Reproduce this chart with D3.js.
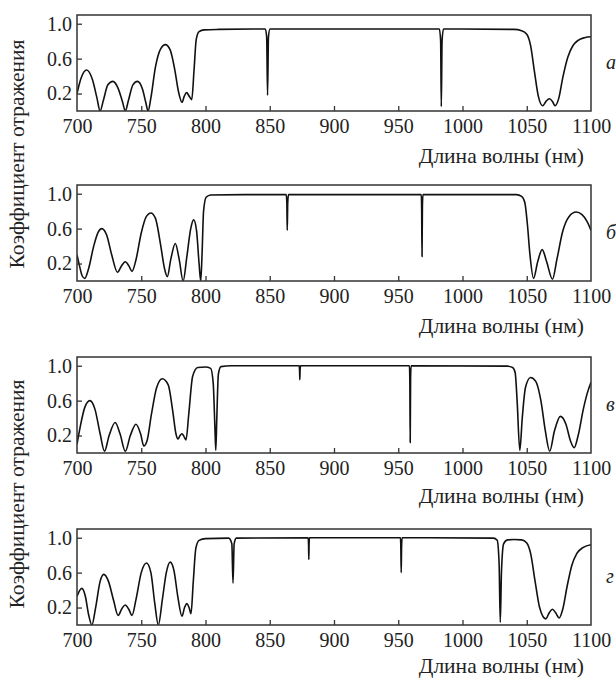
<!DOCTYPE html>
<html lang="ru">
<head>
<meta charset="UTF-8">
<script src="https://d3js.org/d3.v7.min.js"></script>
<style>
  body { margin: 0; background: #fff; }
  svg { display: block; }
  .tick text { fill: #222; }
  .tick line { stroke: #333; stroke-width: 1.3; }
</style>
</head>
<body>
<svg id="chart"></svg>
<script>
// значения: [длина волны, коэффициент отражения]
const seriesA = [[700,0.2],[703,0.37],[707.5,0.47],[712,0.36],[715.5,0.15],[718,0.0],[720.5,0.12],[724,0.3],[728,0.34],[732,0.26],[735.5,0.1],[737.6,0.0],[740,0.12],[743.5,0.3],[747,0.34],[751,0.25],[753.5,0.1],[755.3,0.0],[757.5,0.15],[761,0.5],[765,0.71],[768.8,0.76],[772.5,0.7],[776,0.48],[779,0.22],[781.7,0.1],[783.5,0.17],[785.3,0.21],[787.3,0.17],[789.3,0.13],[791,0.45],[792.8,0.82],[795,0.91],[799,0.93],[810,0.935],[846.5,0.94],[847.6,0.85],[848.3,0.18],[849.0,0.85],[850.2,0.94],[982,0.94],[983,0.8],[983.5,0.05],[984.1,0.8],[985.2,0.94],[1040,0.935],[1046,0.92],[1050,0.88],[1053,0.75],[1056,0.45],[1059,0.17],[1062.4,0.06],[1065,0.11],[1067.6,0.14],[1070,0.11],[1072,0.06],[1075,0.15],[1078,0.38],[1082,0.62],[1086,0.75],[1090,0.81],[1095,0.84],[1100,0.85]];

const seriesB = [[700,0.3],[702,0.17],[704,0.06],[706,0.03],[709,0.14],[713,0.4],[716.5,0.56],[719.3,0.6],[723,0.53],[727,0.3],[731.5,0.1],[734.5,0.17],[737.6,0.22],[740.5,0.17],[742.8,0.11],[746,0.25],[750,0.55],[754,0.74],[757.5,0.78],[761,0.72],[765,0.42],[768,0.15],[770.3,0.05],[773,0.25],[776.5,0.43],[779.5,0.25],[782.6,0.0],[785.5,0.28],[788.5,0.6],[790.8,0.7],[793,0.58],[795,0.2],[796.3,0.0],[797.3,0.3],[798.5,0.8],[800.5,0.96],[804,0.985],[830,0.99],[862.8,0.99],[863.3,0.9],[863.6,0.58],[864,0.9],[864.6,0.99],[967.9,0.99],[968.2,0.85],[968.5,0.28],[968.8,0.85],[969.2,0.99],[1042,0.99],[1046,0.97],[1048.5,0.9],[1050.5,0.65],[1052.5,0.3],[1055.3,0.03],[1058.5,0.22],[1062,0.36],[1065.5,0.22],[1070,0.02],[1073.5,0.25],[1078,0.57],[1083,0.74],[1088.4,0.79],[1093,0.76],[1097,0.68],[1100,0.58]];

const seriesC = [[700,0.1],[702.5,0.3],[706,0.52],[710,0.6],[714,0.5],[718,0.22],[721.4,0.02],[725,0.2],[729.7,0.35],[733.5,0.22],[737.6,0.02],[741.5,0.2],[745.9,0.33],[749.5,0.22],[752,0.08],[754.5,0.14],[758,0.45],[762,0.75],[766.4,0.85],[771,0.78],[774.5,0.48],[777,0.22],[778.6,0.16],[780.2,0.2],[781.7,0.22],[783.2,0.19],[784.8,0.15],[787,0.45],[790,0.88],[794,0.98],[800,0.985],[804,0.97],[806,0.8],[807.3,0.3],[808,0.03],[808.8,0.4],[810,0.9],[812,0.99],[820,1.0],[872.9,1.0],[873.2,0.95],[873.4,0.84],[873.6,0.95],[874,1.0],[958.7,1.0],[959,0.85],[959.3,0.12],[959.6,0.85],[960,1.0],[1035,0.995],[1039,0.98],[1041,0.92],[1042.5,0.6],[1044.6,0.03],[1046.5,0.4],[1049,0.75],[1053,0.865],[1057,0.82],[1061,0.6],[1064.5,0.25],[1067.9,0.02],[1071.5,0.25],[1076.2,0.42],[1080.5,0.33],[1084,0.14],[1086.9,0.06],[1090,0.2],[1094,0.5],[1097,0.68],[1100,0.81]];

const seriesD = [[700,0.33],[703.7,0.42],[706.5,0.33],[709,0.12],[711.6,0.0],[714.5,0.2],[718,0.5],[720.8,0.58],[724.5,0.5],[728.5,0.28],[732,0.11],[735,0.19],[737.6,0.23],[740.3,0.18],[742.8,0.11],[746,0.3],[750,0.6],[754.1,0.71],[757.5,0.6],[760.5,0.25],[763.3,0.0],[766.5,0.3],[769.5,0.6],[772.5,0.72],[775.5,0.62],[778.5,0.32],[781.7,0.1],[783.7,0.2],[785.6,0.245],[787.2,0.2],[788.7,0.13],[790.5,0.5],[792.5,0.88],[795,0.97],[800,0.99],[818,0.995],[820.5,0.93],[821.4,0.48],[822.3,0.93],[824,0.995],[879.9,1.0],[880.2,0.92],[880.4,0.75],[880.6,0.92],[880.9,1.0],[951.7,1.0],[952.0,0.9],[952.3,0.6],[952.6,0.9],[953,1.0],[1024,0.995],[1027,0.97],[1028.5,0.7],[1029.4,0.03],[1030.3,0.6],[1032,0.93],[1035,0.975],[1040,0.98],[1046,0.975],[1050,0.94],[1053,0.82],[1056.5,0.5],[1060,0.2],[1064.8,0.07],[1067.5,0.14],[1070,0.18],[1072.5,0.14],[1075.2,0.08],[1078,0.18],[1081.5,0.45],[1085,0.68],[1089,0.82],[1094,0.89],[1100,0.92]];

const xTicks = [700, 750, 800, 850, 900, 950, 1000, 1050, 1100];
const yTicks = [0.2, 0.6, 1.0];
const panelLabels = ["а", "б", "в", "г"];
const xTitle = "Длина волны (нм)";
const yTitle = "Коэффициент отражения";

const panels = [
  {data: seriesA, top: 15, titleGap: 52},
  {data: seriesB, top: 185, titleGap: 52},
  {data: seriesC, top: 357, titleGap: 50},
  {data: seriesD, top: 529, titleGap: 48}
];

const W = 616, H = 678;
const left = 77, right = 591, ph = 96;
const serif = "Liberation Serif, DejaVu Serif, Noto Serif, Tinos, Times New Roman, serif";

const svg = d3.select("#chart").attr("width", W).attr("height", H)
  .style("font-family", serif);

const x = d3.scaleLinear().domain([700, 1100]).range([left, right]);

const line = d3.line()
  .x(d => x(d[0]))
  .curve(d3.curveMonotoneX);

panels.forEach((p, i) => {
  const y = d3.scaleLinear().domain([0, 1.1]).range([p.top + ph, p.top]);
  line.y(d => y(d[1]));

  svg.append("clipPath").attr("id", "clip" + i)
    .append("rect")
    .attr("x", left).attr("y", p.top)
    .attr("width", right - left).attr("height", ph);

  svg.append("path")
    .datum(p.data)
    .attr("clip-path", `url(#clip${i})`)
    .attr("fill", "none")
    .attr("stroke", "#111")
    .attr("stroke-width", 1.6)
    .attr("d", line);

  const gx = svg.append("g")
    .attr("transform", `translate(0,${p.top + ph})`)
    .call(d3.axisBottom(x).tickValues(xTicks).tickSize(-5).tickPadding(8).tickFormat(d3.format("d")))
    .attr("font-family", null)
    .attr("font-size", 20);
  gx.select(".domain").remove();
  gx.selectAll(".tick").filter(d => d === 700 || d === 1100).select("line").remove();

  const gy = svg.append("g")
    .attr("transform", `translate(${left},0)`)
    .call(d3.axisLeft(y).tickValues(yTicks).tickSize(-5).tickPadding(5).tickFormat(d3.format(".1f")))
    .attr("font-family", null)
    .attr("font-size", 20);
  gy.select(".domain").remove();

  svg.append("rect")
    .attr("x", left).attr("y", p.top)
    .attr("width", right - left).attr("height", ph)
    .attr("fill", "none")
    .attr("stroke", "#333")
    .attr("stroke-width", 1.5);

  svg.append("text")
    .attr("x", 584)
    .attr("y", p.top + ph + p.titleGap)
    .attr("text-anchor", "end")
    .attr("font-size", 21.5)
    .attr("fill", "#222")
    .text(xTitle);

  svg.append("text")
    .attr("x", 606)
    .attr("y", p.top + ph / 2 + 6)
    .attr("font-size", 20)
    .attr("font-style", "italic")
    .attr("fill", "#222")
    .text(panelLabels[i]);
});

[154, 494].forEach(cy => {
  svg.append("text")
    .attr("transform", `translate(24,${cy}) rotate(-90)`)
    .attr("text-anchor", "middle")
    .attr("font-size", 21.5)
    .attr("fill", "#222")
    .text(yTitle);
});
</script>
</body>
</html>
